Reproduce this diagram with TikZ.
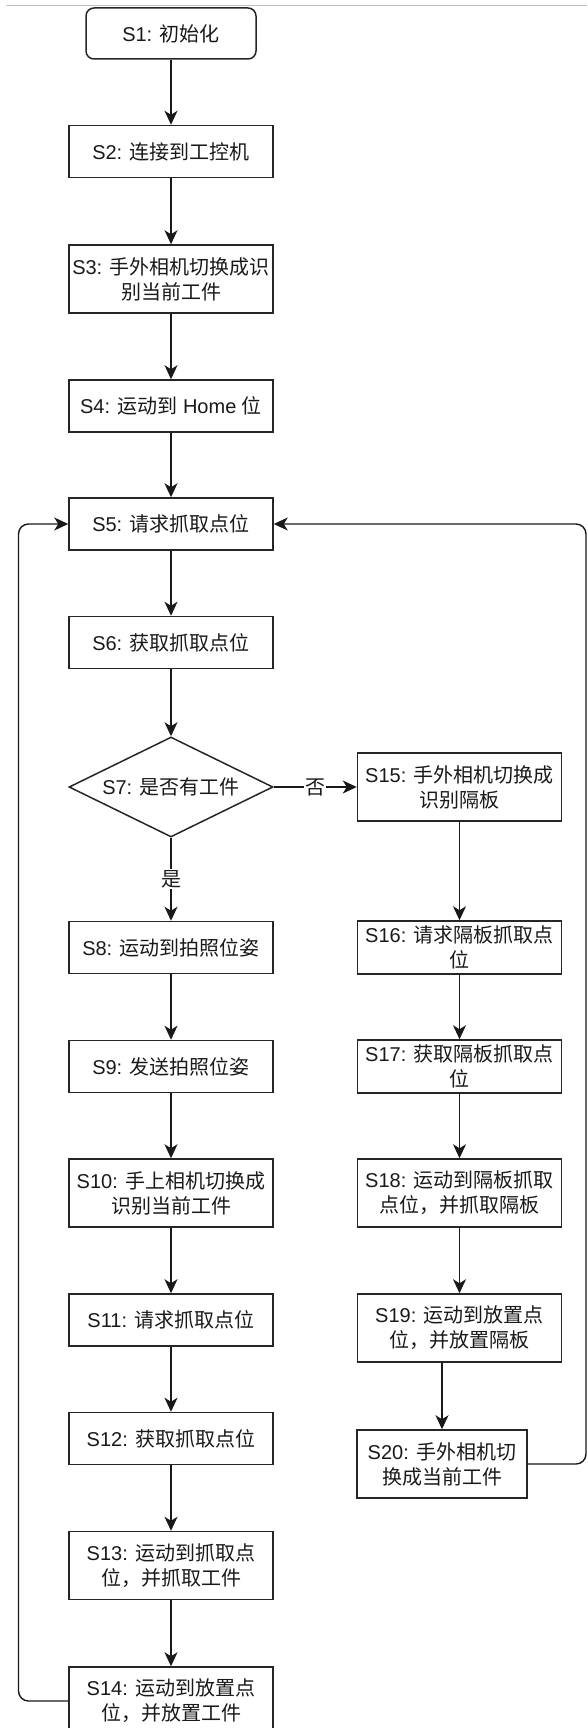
\documentclass[tikz,border=0pt]{standalone}
\usepackage{fontspec}
\setmainfont{Liberation Sans}
\newfontfamily\cjk{Noto Sans CJK SC}
\newcommand{\zh}[1]{{\cjk #1}}
\usetikzlibrary{arrows.meta,shapes.geometric}
\begin{document}
\begin{tikzpicture}[x=1pt,y=-1pt,
  box/.style={draw=black!85, line width=1.5pt, minimum width=204pt, minimum height=52pt,
    inner sep=0pt, align=center, font=\fontsize{20}{25}\selectfont, text=black!90},
  tallbox/.style={box, minimum height=68pt},
  decision/.style={draw=black!85, line width=1.5pt, diamond, aspect=2.04, minimum width=204pt,
    minimum height=100pt, inner sep=0pt, font=\fontsize{20}{25}\selectfont, text=black!90},
  arr/.style={draw=black!90, line width=1.4pt, -{Stealth[length=14pt,width=13pt,inset=4pt]}},
  lbl/.style={fill=white, inner sep=1pt, font=\fontsize{20}{25}\selectfont, text=black!90}]
\useasboundingbox (0,0) rectangle (587,1728);
\clip (0,0) rectangle (587,1728);
\coordinate (GL) at (6,6);
\coordinate (GR) at (587,6);
\draw[black!25, line width=1pt] (GL) -- (GR);
% left column
\node[box, rounded corners=8pt, minimum width=170pt, minimum height=51pt] (S1) at (171,33.5) {S1: \zh{初始化}};
\node[box] (S2) at (171,151.5) {S2: \zh{连接到工控机}};
\node[tallbox] (S3) at (171,279) {S3: \zh{手外相机切换成识}\\\zh{别当前工件}};
\node[box] (S4) at (171,406) {S4: \zh{运动到} Home \zh{位}};
\node[box] (S5) at (171,524) {S5: \zh{请求抓取点位}};
\node[box] (S6) at (171,642.5) {S6: \zh{获取抓取点位}};
\node[decision] (S7) at (171,787) {S7: \zh{是否有工件}};
\node[box] (S8) at (171,947.5) {S8: \zh{运动到拍照位姿}};
\node[box] (S9) at (171,1066.5) {S9: \zh{发送拍照位姿}};
\node[tallbox] (S10) at (171,1193) {S10: \zh{手上相机切换成}\\\zh{识别当前工件}};
\node[box] (S11) at (171,1320) {S11: \zh{请求抓取点位}};
\node[box] (S12) at (171,1438.5) {S12: \zh{获取抓取点位}};
\node[tallbox] (S13) at (171,1565.5) {S13: \zh{运动到抓取点}\\\zh{位，并抓取工件}};
\node[tallbox] (S14) at (171,1701) {S14: \zh{运动到放置点}\\\zh{位，并放置工件}};
% right column
\node[tallbox] (S15) at (459.5,787) {S15: \zh{手外相机切换成}\\\zh{识别隔板}};
\node[box, minimum height=53pt] (S16) at (459.5,947.5) {S16: \zh{请求隔板抓取点}\\\zh{位}};
\node[box, minimum height=53pt] (S17) at (459.5,1066.5) {S17: \zh{获取隔板抓取点}\\\zh{位}};
\node[tallbox] (S18) at (459.5,1193) {S18: \zh{运动到隔板抓取}\\\zh{点位，并抓取隔板}};
\node[tallbox] (S19) at (459.5,1328) {S19: \zh{运动到放置点}\\\zh{位，并放置隔板}};
\node[tallbox, minimum width=170pt] (S20) at (442,1464) {S20: \zh{手外相机切}\\\zh{换成当前工件}};
% connectors
\draw[arr] (S1) -- (S2);
\draw[arr] (S2) -- (S3);
\draw[arr] (S3) -- (S4);
\draw[arr] (S4) -- (S5);
\draw[arr] (S5) -- (S6);
\draw[arr] (S6) -- (S7);
\draw[arr] (S7) -- node[lbl] {\zh{是}} (S8);
\draw[arr] (S7) -- node[lbl] {\zh{否}} (S15);
\draw[arr] (S8) -- (S9);
\draw[arr] (S9) -- (S10);
\draw[arr] (S10) -- (S11);
\draw[arr] (S11) -- (S12);
\draw[arr] (S12) -- (S13);
\draw[arr] (S13) -- (S14);
\draw[arr] (S15) -- (S16);
\draw[arr] (S16) -- (S17);
\draw[arr] (S17) -- (S18);
\draw[arr] (S18) -- (S19);
\draw[arr] (S20.north |- S19.south) -- (S20.north);
\coordinate (LL) at (18.5,0);
\coordinate (RR) at (586,0);
\draw[arr, rounded corners=10pt] (S14.west) -- (S14.west -| LL) -- (LL |- S5.west) -- (S5.west);
\draw[arr, rounded corners=10pt] (S20.east) -- (S20.east -| RR) -- (RR |- S5.east) -- (S5.east);
\end{tikzpicture}
\end{document}
